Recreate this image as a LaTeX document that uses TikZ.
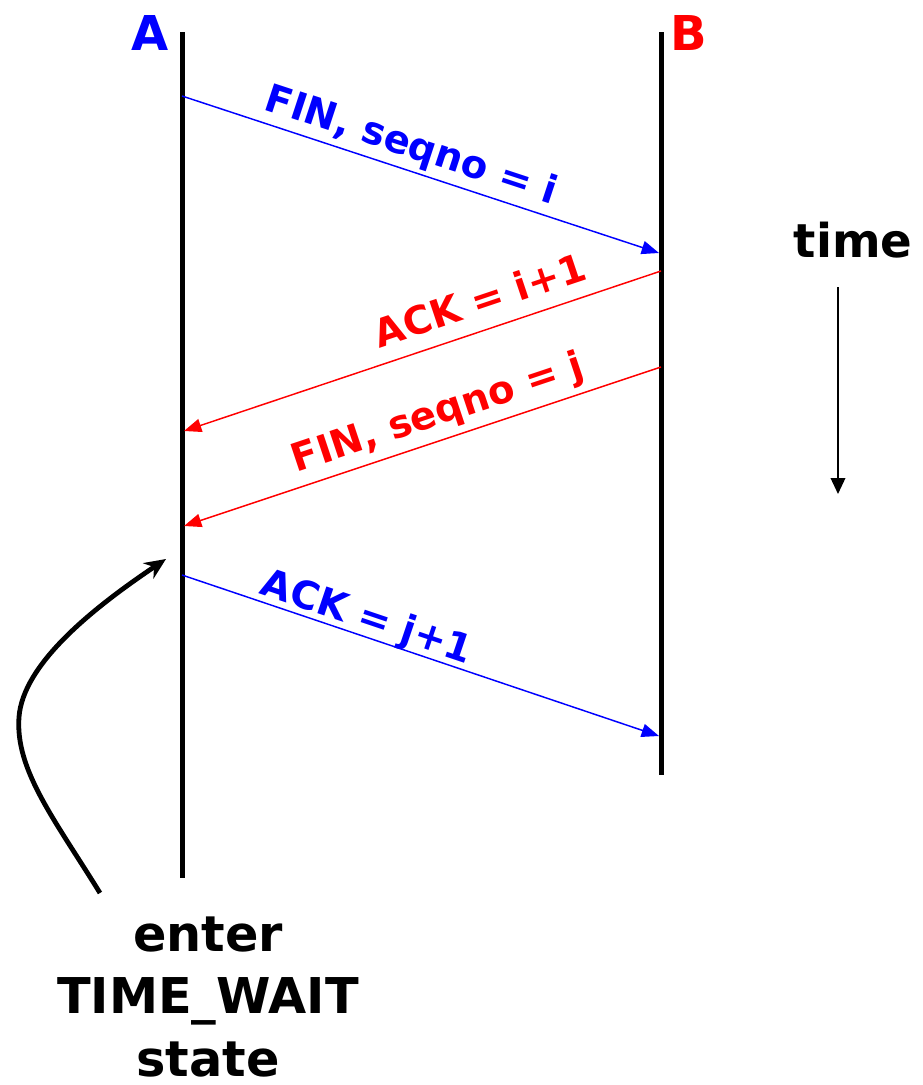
\documentclass[tikz,border=0pt]{standalone}
\usepackage{fontspec}
\setmainfont{DejaVu Sans}
\usetikzlibrary{arrows.meta}
\definecolor{msgblue}{RGB}{0,0,255}
\definecolor{msgred}{RGB}{255,0,0}
\tikzset{
  lifeline/.style={line width=3.75pt},
  msg/.style={line width=1.1pt,-{Triangle[length=13pt,width=10pt]}},
  msglabel/.style={font=\fontsize{29}{33}\selectfont\bfseries,sloped,inner sep=0pt},
  endlabel/.style={font=\fontsize{36}{40}\selectfont\bfseries,inner sep=0pt},
}
\begin{document}
\begin{tikzpicture}[x=0.75pt,y=-0.75pt]
\useasboundingbox (0,0) rectangle (922,1085);

% lifelines
\coordinate (Atop) at (182,32);
\coordinate (Abot) at (182,878);
\coordinate (Btop) at (661,32);
\coordinate (Bbot) at (661,775);
\draw[lifeline] (Atop) -- (Abot);
\draw[lifeline] (Btop) -- (Bbot);

\node[endlabel,text=msgblue] (A) at (150,33) {A};
\node[endlabel,text=msgred] (B) at (689,33) {B};

% message end points on the lifelines
\coordinate (a1) at (182,96);
\coordinate (b1) at (659,253);
\coordinate (b2) at (661,271);
\coordinate (a2) at (184,431);
\coordinate (b3) at (661,367);
\coordinate (a3) at (184,526);
\coordinate (a4) at (182,575);
\coordinate (b4) at (659,736);

\draw[msg,msgblue] (a1) -- node[msglabel,above=3pt,pos=0.465] {FIN, seqno = i} (b1);
\draw[msg,msgred] (b2) -- node[msglabel,above=11pt,pos=0.36] {ACK = i+1} (a2);
\draw[msg,msgred] (b3) -- node[msglabel,above=4.5pt,pos=0.45] {FIN, seqno = j} (a3);
\draw[msg,msgblue] (a4) -- node[msglabel,above=-1.5pt,pos=0.375] {ACK = j+1} (b4);

% time axis
\node[font=\fontsize{35}{39}\selectfont\bfseries,inner sep=0pt] (time) at (853,240) {time};
\coordinate (t0) at (838,287);
\coordinate (t1) at (838,494);
\draw[line width=1.1pt,-{Triangle[length=12pt,width=11pt]}] (t0) -- (t1);

% TIME_WAIT annotation
\node[align=center,font=\fontsize{37}{47}\selectfont\bfseries,inner sep=0pt] (tw) at (208,997) {enter\\TIME\_WAIT\\state};
\coordinate (c0) at (100,893);
\coordinate (c1) at (166,559);
\draw[line width=3.6pt,-{Stealth[length=16pt,width=14pt]}]
  (c0) .. controls (55,820) and (15,770) .. (19,717)
       .. controls (23,665) and (90,610) .. (c1);
\end{tikzpicture}
\end{document}
